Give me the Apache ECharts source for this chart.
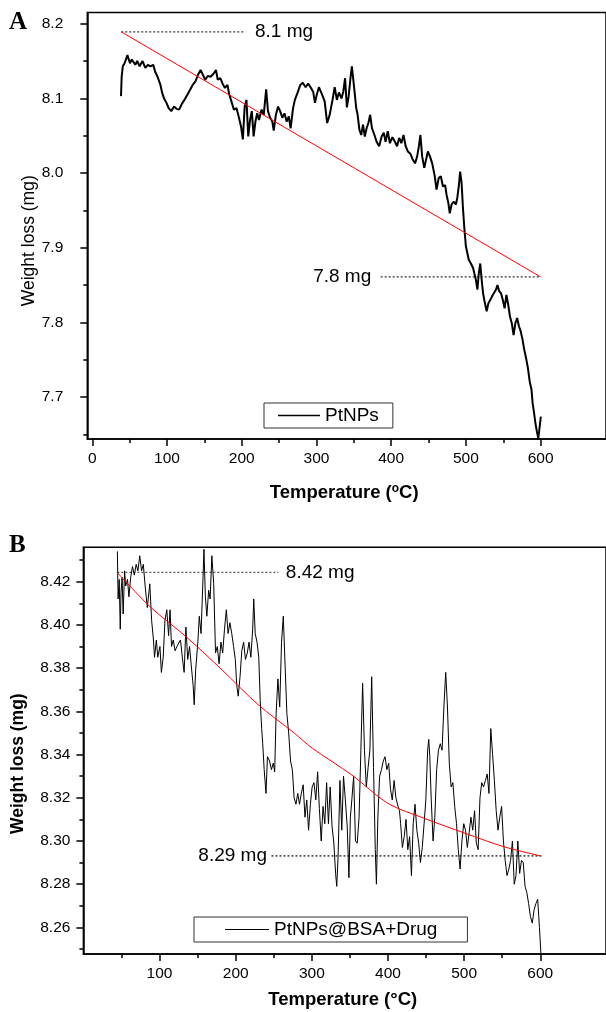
<!DOCTYPE html>
<html><head><meta charset="utf-8">
<script src="https://cdn.jsdelivr.net/npm/echarts@6/dist/echarts.min.js"></script>
<style>html,body{margin:0;padding:0;background:#fff}#c{width:606px;height:1012px}</style>
</head><body><div id="c"></div><script>
// ---------- Panel A data ----------
const tempA = [38.4,39.3,40.8,43.2,47.0,50.4,52.8,55.2,57.6,60.0,63.3,67.2,71.0,74.4,77.7,81.6,84.0,87.3,91.2,93.6,96.0,99.3,102.2,105.6,109.4,112.8,116.1,120.0,123.3,127.2,130.5,134.4,138.2,141.6,144.9,147.8,151.2,154.5,158.3,162.2,165.5,167.9,171.3,174.2,177.5,180.9,183.3,186.2,189.5,192.9,195.8,199.1,201.5,203.9,206.3,208.7,211.1,213.5,215.9,218.3,220.7,223.1,226.5,229.4,232.7,235.1,238.0,240.9,242.8,245.7,248.6,251.4,254.3,257.2,260.1,263.0,265.4,268.7,271.1,274.5,278.3,281.7,285.5,288.9,292.7,295.6,298.0,300.4,303.3,307.1,311.0,314.3,317.7,321.5,324.4,327.3,330.1,333.5,335.9,338.3,340.7,343.1,345.5,347.4,349.3,351.2,353.2,355.1,357.5,359.9,362.3,364.7,367.1,369.5,371.9,374.3,377.6,380.5,383.9,387.2,390.1,392.5,395.4,398.3,401.6,405.0,407.9,410.7,413.6,416.5,419.4,422.3,425.6,428.5,431.9,434.7,437.1,439.1,441.5,444.3,446.7,449.1,452.0,454.9,458.3,460.7,463.5,466.4,469.3,472.2,474.1,476.5,478.4,480.8,483.7,486.6,488.5,490.4,492.3,494.2,496.2,498.1,500.0,501.9,503.8,506.7,509.6,511.5,513.4,515.4,517.3,519.2,521.1,523.0,525.4,527.8,530.2,532.6,535.0,537.4,540.3,542.2,544.6,547.0,549.4,551.8,554.2,556.6,559.0,561.4,563.8,566.2,568.6,571.0,573.4,575.8,578.2,580.6,583.0,585.4,587.8,589.3,591.2,593.1,595.0,596.9,598.8,600.3];
const weightA = [8.103,8.129,8.143,8.147,8.158,8.147,8.152,8.154,8.145,8.150,8.143,8.150,8.141,8.145,8.143,8.145,8.136,8.129,8.118,8.107,8.100,8.094,8.087,8.083,8.089,8.086,8.085,8.093,8.098,8.105,8.111,8.118,8.123,8.132,8.138,8.132,8.125,8.130,8.129,8.133,8.138,8.125,8.127,8.120,8.114,8.118,8.105,8.096,8.085,8.087,8.076,8.062,8.045,8.089,8.098,8.049,8.071,8.083,8.049,8.069,8.080,8.071,8.085,8.078,8.112,8.083,8.074,8.069,8.057,8.078,8.089,8.083,8.074,8.080,8.069,8.076,8.060,8.087,8.098,8.107,8.118,8.121,8.115,8.120,8.114,8.109,8.094,8.105,8.115,8.106,8.096,8.067,8.078,8.098,8.115,8.098,8.108,8.100,8.109,8.127,8.088,8.103,8.127,8.143,8.141,8.107,8.087,8.078,8.058,8.051,8.065,8.049,8.060,8.067,8.078,8.060,8.051,8.042,8.036,8.049,8.054,8.042,8.056,8.040,8.048,8.042,8.036,8.047,8.040,8.051,8.036,8.029,8.026,8.019,8.013,8.022,8.036,8.051,8.022,8.007,8.018,8.029,8.022,8.013,7.996,7.978,7.993,7.996,7.982,7.984,7.971,7.960,7.946,7.958,7.962,7.958,7.967,7.982,8.002,7.987,7.951,7.924,7.902,7.893,7.884,7.879,7.873,7.871,7.857,7.844,7.866,7.879,7.857,7.839,7.826,7.815,7.826,7.830,7.835,7.835,7.844,7.850,7.842,7.839,7.830,7.819,7.837,7.824,7.808,7.799,7.783,7.799,7.806,7.795,7.788,7.777,7.763,7.752,7.739,7.721,7.710,7.692,7.679,7.665,7.654,7.645,7.647,7.674];
const fitTempA = [38.8, 600];
const fitWeightA = [8.189, 7.861];
const xTicksA = [0,100,200,300,400,500,600];
const xMinorA = [50,150,250,350,450,550];
const yTicksA = [7.7,7.8,7.9,8.0,8.1,8.2];
const yMinorA = [7.65,7.75,7.85,7.95,8.05,8.15];

// ---------- Panel B data ----------
const tempB = [44.6,45.6,47.0,48.4,49.4,50.8,52.2,54.1,55.5,57.9,59.8,62.1,64.5,66.9,69.3,71.6,74.0,76.4,78.7,81.1,83.9,87.2,89.6,92.0,93.4,95.8,97.7,100.5,102.4,104.8,107.1,109.5,111.9,113.8,115.7,118.0,120.4,122.8,125.2,127.5,129.9,132.3,134.6,137.0,139.4,141.7,144.1,145.5,147.4,150.3,152.2,154.5,156.9,158.3,160.2,162.1,164.5,166.4,168.7,171.1,173.5,175.8,178.2,180.6,182.9,185.3,187.7,190.0,192.4,194.8,197.2,199.5,201.4,203.3,205.7,208.0,210.4,212.8,215.2,217.5,219.9,222.3,223.7,225.6,228.0,230.3,232.2,234.1,235.5,237.4,239.8,241.7,244.5,246.9,249.3,251.2,253.1,255.4,257.8,260.2,262.5,264.9,267.2,269.6,272.0,274.4,276.7,279.1,281.5,283.8,286.2,288.6,291.0,293.3,295.7,298.1,300.4,302.8,305.2,307.6,309.9,312.3,314.7,317.0,319.4,321.8,324.1,326.5,328.9,331.2,332.7,334.5,336.9,339.3,341.6,344.0,346.4,348.7,350.6,352.5,354.9,357.3,359.6,362.0,364.4,366.7,369.1,371.5,373.9,376.2,378.6,381.0,383.3,384.8,386.7,389.0,391.4,393.8,396.1,398.5,400.9,403.3,405.6,408.0,410.4,413.2,415.1,416.6,418.9,421.3,423.7,426.0,428.4,430.8,433.1,435.5,437.9,440.3,442.6,445.0,447.4,449.7,452.1,453.5,454.9,456.8,459.2,461.5,463.9,466.3,468.7,471.0,473.4,475.8,478.1,480.5,482.9,485.2,487.6,490.0,492.3,494.7,497.1,499.5,501.8,504.2,506.6,508.9,511.3,513.7,516.0,518.4,520.8,523.1,525.5,527.9,530.3,532.6,535.0,537.4,539.7,542.1,544.5,546.8,549.2,551.6,553.9,556.3,558.7,561.0,563.4,565.8,568.1,570.5,572.9,575.3,577.6,580.0,582.4,584.7,587.1,589.5,591.8,594.2,596.6,598.0,598.9,600.8];
const weightB = [8.434,8.412,8.421,8.398,8.415,8.422,8.405,8.425,8.418,8.421,8.413,8.422,8.427,8.423,8.428,8.425,8.432,8.425,8.428,8.418,8.408,8.419,8.402,8.393,8.385,8.393,8.385,8.390,8.378,8.385,8.402,8.407,8.395,8.407,8.390,8.393,8.388,8.390,8.390,8.393,8.385,8.378,8.399,8.384,8.390,8.381,8.372,8.363,8.379,8.392,8.404,8.396,8.420,8.435,8.413,8.404,8.416,8.412,8.432,8.419,8.387,8.390,8.382,8.392,8.387,8.398,8.407,8.396,8.401,8.396,8.390,8.384,8.372,8.367,8.376,8.388,8.392,8.384,8.387,8.392,8.385,8.398,8.412,8.396,8.392,8.385,8.365,8.352,8.345,8.333,8.322,8.339,8.337,8.333,8.336,8.332,8.359,8.375,8.362,8.392,8.404,8.381,8.359,8.350,8.337,8.333,8.320,8.317,8.322,8.317,8.322,8.326,8.311,8.319,8.305,8.317,8.325,8.327,8.319,8.332,8.315,8.300,8.316,8.308,8.327,8.308,8.325,8.307,8.299,8.285,8.279,8.293,8.328,8.305,8.330,8.319,8.307,8.283,8.311,8.319,8.330,8.300,8.299,8.311,8.342,8.373,8.342,8.325,8.334,8.342,8.376,8.334,8.296,8.280,8.311,8.330,8.333,8.337,8.339,8.333,8.336,8.324,8.319,8.328,8.320,8.316,8.314,8.308,8.297,8.302,8.310,8.296,8.302,8.284,8.308,8.317,8.305,8.299,8.290,8.297,8.308,8.319,8.342,8.347,8.339,8.319,8.300,8.311,8.333,8.342,8.345,8.342,8.362,8.378,8.362,8.336,8.325,8.327,8.316,8.308,8.296,8.287,8.300,8.308,8.305,8.297,8.304,8.311,8.305,8.314,8.299,8.296,8.320,8.327,8.325,8.328,8.331,8.322,8.352,8.340,8.328,8.314,8.305,8.311,8.316,8.300,8.291,8.284,8.287,8.291,8.300,8.280,8.284,8.300,8.285,8.291,8.290,8.279,8.276,8.271,8.265,8.262,8.268,8.271,8.273,8.265,8.260,8.248];
const fitTempB = [44.6,87.2,134.6,182,229.4,276.7,300.4,352.6,400,447.4,501.8,551.6,600];
const fitWeightB = [8.4242,8.4085,8.3946,8.3792,8.3631,8.350,8.343,8.3305,8.3174,8.3105,8.3035,8.2974,8.2931];
const xTicksB = [100,200,300,400,500,600];
const xMinorB = [50,150,250,350,450,550];
const yTicksB = [8.26,8.28,8.30,8.32,8.34,8.36,8.38,8.40,8.42];
const yMinorB = [8.25,8.27,8.29,8.31,8.33,8.35,8.37,8.39,8.41,8.43];

// annotation guide lines [temps], [weights], label
const guideA1 = {t:[38.8,205], w:[8.189,8.189], text:'8.1 mg'};
const guideA2 = {t:[386,600], w:[7.861,7.861], text:'7.8 mg'};
const guideB1 = {t:[44.6,256], w:[8.4243,8.4243], text:'8.42 mg'};
const guideB2 = {t:[247,602], w:[8.2931,8.2931], text:'8.29 mg'};

const zip = (a,b) => a.map((v,i)=>[v,b[i]]);
const FONT = "'Liberation Sans', Arial, sans-serif";
const chart = echarts.init(document.getElementById('c'), null, {renderer:'canvas'});

function mainX(grid, min, max, ticks, name, gapName, pad){
  return {type:'value', gridIndex:grid, min:min, max:max, position:'bottom',
    axisLine:{show:true, onZero:false, lineStyle:{color:'#000', width:1.5}},
    axisTick:{show:true, length:7, customValues:ticks, lineStyle:{color:'#000', width:1.5}},
    axisLabel:{show:true, customValues:ticks, margin:12, color:'#000', fontSize:15.5, fontFamily:FONT},
    splitLine:{show:false},
    name:name, nameLocation:'middle', nameGap:gapName, nameMoveOverlap:false,
    nameTextStyle:{color:'#000', fontSize:18.5, fontWeight:'bold', fontFamily:FONT, padding:pad,
      rich:{s:{fontSize:12, fontWeight:'bold', fontFamily:FONT, color:'#000', verticalAlign:'top', padding:[0,0,8,0]}}}
  };
}
function minorX(grid, min, max, ticks){
  return {type:'value', gridIndex:grid, min:min, max:max, position:'bottom',
    axisLine:{show:false, onZero:false}, axisLabel:{show:false}, splitLine:{show:false},
    axisTick:{show:true, length:4, customValues:ticks, lineStyle:{color:'#000', width:1.5}}};
}
function mainY(grid, min, max, ticks, dec, name, gapName, bold, margin, pad){
  return {type:'value', gridIndex:grid, min:min, max:max, position:'left',
    axisLine:{show:true, onZero:false, lineStyle:{color:'#000', width:1.5}},
    axisTick:{show:true, length:7, customValues:ticks, lineStyle:{color:'#000', width:1.5}},
    axisLabel:{show:true, customValues:ticks, margin:margin, color:'#000', fontSize:15.5, fontFamily:FONT,
      formatter:(v)=>Number(v).toFixed(dec)},
    splitLine:{show:false},
    name:name, nameLocation:'middle', nameGap:gapName, nameMoveOverlap:false,
    nameTextStyle:{color:'#000', fontSize:17.5, fontWeight:bold?'bold':'normal', fontFamily:FONT, padding:pad}
  };
}
function minorY(grid, min, max, ticks){
  return {type:'value', gridIndex:grid, min:min, max:max, position:'left',
    axisLine:{show:false, onZero:false}, axisLabel:{show:false}, splitLine:{show:false},
    axisTick:{show:true, length:4, customValues:ticks, lineStyle:{color:'#000', width:1.5}}};
}
function guideLine(g, xi, yi, color, width, dash){
  return {type:'line', xAxisIndex:xi, yAxisIndex:yi, data:zip(g.t, g.w), symbol:'none', showSymbol:false,
    silent:true, z:3, lineStyle:{color:color, width:width, type:dash}};
}
function guideText(g, xi, yi, labelPos, dist){
  const idx = labelPos === 'right' ? 1 : 0;
  return {type:'scatter', xAxisIndex:xi, yAxisIndex:yi, silent:true, z:6,
    data:[[g.t[idx], g.w[idx]]], symbol:'circle', symbolSize:1,
    itemStyle:{color:'rgba(0,0,0,0)', opacity:1},
    label:{show:true, position:labelPos, distance:dist, formatter:g.text, opacity:1,
      color:'#000', fontSize:19, fontFamily:FONT}};
}

const option = {
  animation:false,
  backgroundColor:'#fff',
  title:[
    {text:'A', left:9, top:10, padding:0, textStyle:{fontFamily:"'Liberation Serif', 'Times New Roman', serif", fontWeight:'bold', fontSize:25, color:'#000'}},
    {text:'B', left:9, top:533, padding:0, textStyle:{fontFamily:"'Liberation Serif', 'Times New Roman', serif", fontWeight:'bold', fontSize:25, color:'#000'}}
  ],
  grid:[
    {left:87.3, top:12.5, width:560, height:426.5, show:true, borderColor:'#000', borderWidth:1.5, containLabel:false},
    {left:83.4, top:547.3, width:560, height:406.7, show:true, borderColor:'#000', borderWidth:1.5, containLabel:false}
  ],
  legend:[
    {data:['PtNPs'], left:264, top:403, orient:'horizontal', padding:[3,14,3,14], itemWidth:42, itemHeight:1.6, icon:'rect',
      borderColor:'#333', borderWidth:1, textStyle:{fontSize:19, color:'#000', fontFamily:FONT}},
    {data:['PtNPs@BSA+Drug'], left:194, top:917, orient:'horizontal', padding:[3,30,3,31], itemWidth:44, itemHeight:1, icon:'rect',
      borderColor:'#333', borderWidth:1, textStyle:{fontSize:19, color:'#000', fontFamily:FONT}}
  ],
  xAxis:[
    mainX(0, -6.7, 687.5, xTicksA, 'Temperature ({s|o}C)', 44, [0,5,0,0]),
    minorX(0, -6.7, 687.5, xMinorA),
    mainX(1, 0, 686.3, xTicksB, 'Temperature (°C)', 36, [0,4,0,0]),
    minorX(1, 0, 686.3, xMinorB)
  ],
  yAxis:[
    mainY(0, 7.644, 8.215, yTicksA, 1, 'Weight loss (mg)', 49, false, 24, [0,30,0,0]),
    minorY(0, 7.644, 8.215, yMinorA),
    mainY(1, 8.2477, 8.4359, yTicksB, 2, 'Weight loss (mg)', 56, true, 13, [0,26,0,0]),
    minorY(1, 8.2477, 8.4359, yMinorB)
  ],
  series:[
    {name:'PtNPs', type:'line', xAxisIndex:0, yAxisIndex:0, data:zip(tempA, weightA), symbol:'none', showSymbol:false,
      lineStyle:{color:'#000', width:2}, itemStyle:{color:'#000'}, z:4},
    {name:'fitA', type:'line', xAxisIndex:0, yAxisIndex:0, data:zip(fitTempA, fitWeightA), symbol:'none', showSymbol:false,
      lineStyle:{color:'#ff0000', width:1}, z:5},
    guideLine(guideA1, 0, 0, '#000', 1, [2,2]),
    guideText(guideA1, 0, 0, 'right', 9),
    guideLine(guideA2, 0, 0, '#000', 1, [2,2]),
    guideText(guideA2, 0, 0, 'left', 9),
    {name:'PtNPs@BSA+Drug', type:'line', xAxisIndex:2, yAxisIndex:2, data:zip(tempB, weightB), symbol:'none', showSymbol:false,
      lineStyle:{color:'#000', width:1}, itemStyle:{color:'#000'}, z:4},
    {name:'fitB', type:'line', xAxisIndex:2, yAxisIndex:2, data:zip(fitTempB, fitWeightB), symbol:'none', showSymbol:false, smooth:0.3,
      lineStyle:{color:'#ff0000', width:1}, z:5},
    guideLine(guideB1, 2, 2, '#555', 1.2, [2,2]),
    guideText(guideB1, 2, 2, 'right', 7),
    guideLine(guideB2, 2, 2, '#555', 1.6, [2,2]),
    guideText(guideB2, 2, 2, 'left', 4)
  ]
};
chart.setOption(option);
</script></body></html>
